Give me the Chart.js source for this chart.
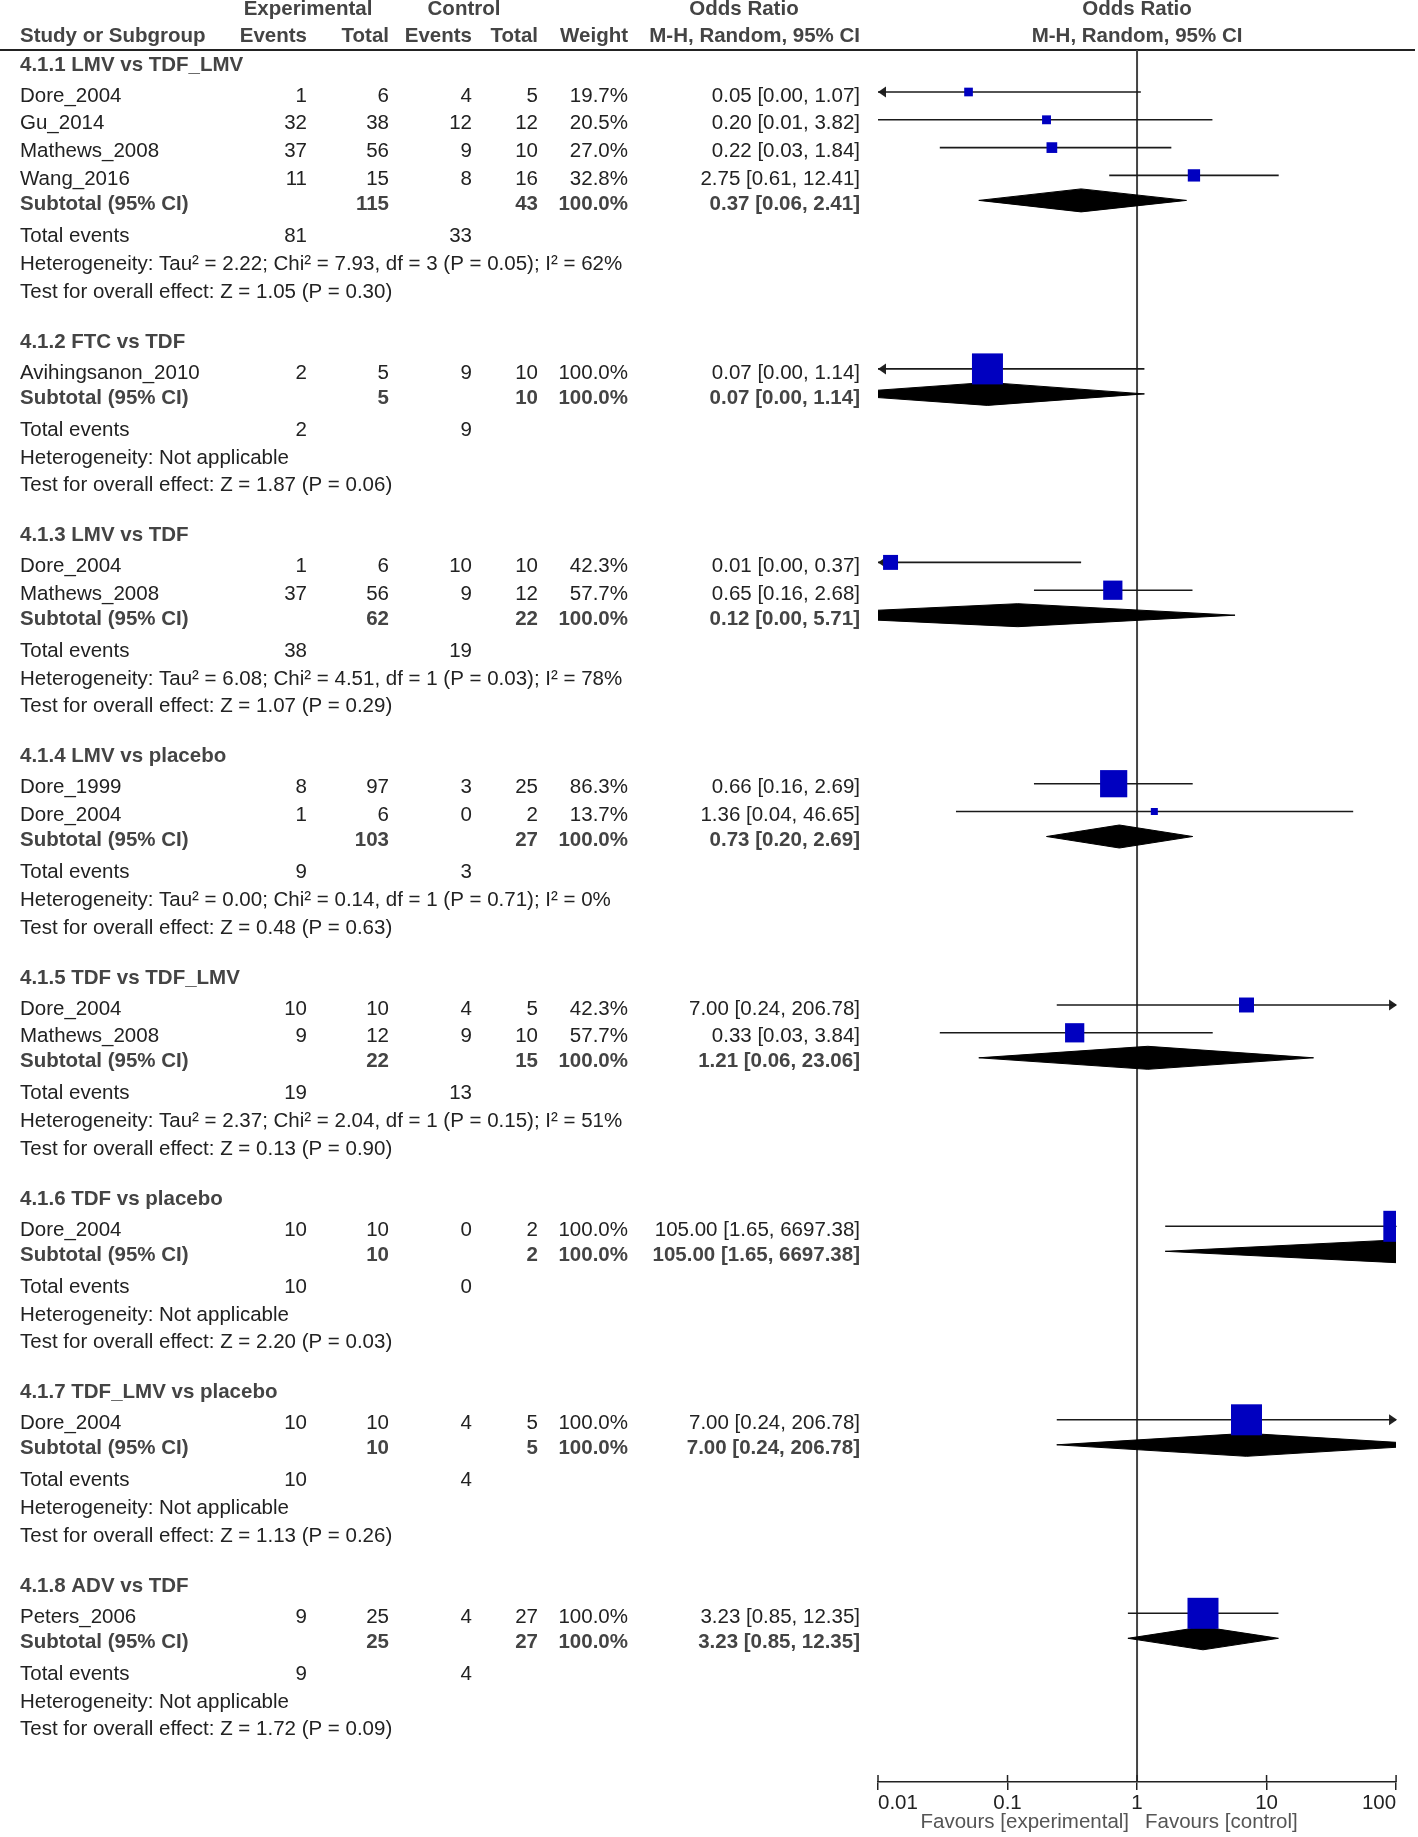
<!DOCTYPE html>
<html>
<head>
<meta charset="utf-8">
<title>Forest plot - odds ratio by subgroup</title>
<script src="https://cdn.jsdelivr.net/npm/chart.js@4.4.0/dist/chart.umd.min.js"></script>
<style>
  html, body { margin: 0; padding: 0; background: #fff; }
  canvas { display: block; }
</style>
</head>
<body>
<canvas id="forest" width="1418" height="1837"></canvas>
<script>
// ---- data ----
const groupTitles = [
    "4.1.1 LMV vs TDF_LMV", "4.1.2 FTC vs TDF", "4.1.3 LMV vs TDF", "4.1.4 LMV vs placebo",
    "4.1.5 TDF vs TDF_LMV", "4.1.6 TDF vs placebo", "4.1.7 TDF_LMV vs placebo", "4.1.8 ADV vs TDF"
];
const studyGroup = [0, 0, 0, 0, 1, 2, 2, 3, 3, 4, 4, 5, 6, 7];
const studyNames = [
    "Dore_2004", "Gu_2014", "Mathews_2008", "Wang_2016", "Avihingsanon_2010",
    "Dore_2004", "Mathews_2008", "Dore_1999", "Dore_2004", "Dore_2004",
    "Mathews_2008", "Dore_2004", "Dore_2004", "Peters_2006"
];
const expEvents  = [1, 32, 37, 11, 2, 1, 37, 8, 1, 10, 9, 10, 10, 9];
const expTotal   = [6, 38, 56, 15, 5, 6, 56, 97, 6, 10, 12, 10, 10, 25];
const ctrlEvents = [4, 12, 9, 8, 9, 10, 9, 3, 0, 4, 9, 0, 4, 4];
const ctrlTotal  = [5, 12, 10, 16, 10, 10, 12, 25, 2, 5, 10, 2, 5, 27];
const weights    = [19.7, 20.5, 27.0, 32.8, 100.0, 42.3, 57.7, 86.3, 13.7, 42.3, 57.7, 100.0, 100.0, 100.0];
const orEst = [0.05, 0.20, 0.22, 2.75, 0.07, 0.0125, 0.65, 0.66, 1.36, 7.00, 0.33, 105.00, 7.00, 3.23];
const orLo  = [0.002, 0.01, 0.03, 0.61, 0.004, 0.0005, 0.16, 0.16, 0.04, 0.24, 0.03, 1.65, 0.24, 0.85];
const orHi  = [1.07, 3.82, 1.84, 12.41, 1.14, 0.37, 2.68, 2.69, 46.65, 206.78, 3.84, 6697.38, 206.78, 12.35];

const subEst = [0.37, 0.07, 0.12, 0.73, 1.21, 105.00, 7.00, 3.23];
const subLo  = [0.06, 0.004, 0.0015, 0.20, 0.06, 1.65, 0.24, 0.85];
const subHi  = [2.41, 1.14, 5.71, 2.69, 23.06, 6697.38, 206.78, 12.35];

const heterogeneity = [
    "Heterogeneity: Tau\u00b2 = 2.22; Chi\u00b2 = 7.93, df = 3 (P = 0.05); I\u00b2 = 62%",
    "Heterogeneity: Not applicable",
    "Heterogeneity: Tau\u00b2 = 6.08; Chi\u00b2 = 4.51, df = 1 (P = 0.03); I\u00b2 = 78%",
    "Heterogeneity: Tau\u00b2 = 0.00; Chi\u00b2 = 0.14, df = 1 (P = 0.71); I\u00b2 = 0%",
    "Heterogeneity: Tau\u00b2 = 2.37; Chi\u00b2 = 2.04, df = 1 (P = 0.15); I\u00b2 = 51%",
    "Heterogeneity: Not applicable",
    "Heterogeneity: Not applicable",
    "Heterogeneity: Not applicable"
];
const overallZ = ["1.05", "1.87", "1.07", "0.48", "0.13", "2.20", "1.13", "1.72"];
const overallP = ["0.30", "0.06", "0.29", "0.63", "0.90", "0.03", "0.26", "0.09"];

const xTicks = [0.01, 0.1, 1, 10, 100];

// ---- layout ----
const FONT = '"Liberation Sans", Arial, sans-serif';
const FS = 20.5;
const COL = { name: 20, expEv: 307, expTot: 389, ctlEv: 472, ctlTot: 538, weight: 628, or: 860 };
const GAP = { first: 15, titleToStudy: 31, study: 27.8, studyToSub: 25, subToEvents: 32, line: 28, hetToTest: 27.5, nextGroup: 50 };
const MARK_SHIFT = 4;      // marks sit slightly above the text centre
const DIAMOND_HALF = 11.5;

// rows, y measured downward from the header rule
const rows = [];
let cy = GAP.first;
groupTitles.forEach((t, g) => {
    rows.push({ kind: "title", g, y: cy });
    cy += GAP.titleToStudy;
    let first = true;
    studyGroup.forEach((sg, i) => {
        if (sg !== g) return;
        if (!first) cy += GAP.study;
        first = false;
        rows.push({ kind: "study", g, i, y: cy });
    });
    cy += GAP.studyToSub;  rows.push({ kind: "subtotal", g, y: cy });
    cy += GAP.subToEvents; rows.push({ kind: "events", g, y: cy });
    cy += GAP.line;        rows.push({ kind: "het", g, y: cy });
    cy += GAP.hetToTest;   rows.push({ kind: "test", g, y: cy });
    cy += GAP.nextGroup;
});
const studyRows = rows.filter(r => r.kind === "study");
const subRows = rows.filter(r => r.kind === "subtotal");

const sumBy = (arr, g) => arr.reduce((s, v, i) => s + (studyGroup[i] === g ? v : 0), 0);
const fmtOR = (e, l, h) => `${e.toFixed(2)} [${l.toFixed(2)}, ${h.toFixed(2)}]`;

// ---- datasets ----
const datasets = [];
datasets.push({
    type: "scatter",
    data: studyRows.map(r => ({ x: orEst[r.i], y: r.y - MARK_SHIFT })),
    pointStyle: "rect",
    pointRadius: studyRows.map(r => (3.2 + 0.278 * weights[r.i]) / Math.SQRT2),
    backgroundColor: "#0000c0",
    borderWidth: 0,
    order: 0,
    clip: 0
});
subRows.forEach(r => {
    const yy = r.y - MARK_SHIFT;
    datasets.push({
        type: "line",
        data: [
            { x: subLo[r.g], y: yy }, { x: subEst[r.g], y: yy - DIAMOND_HALF },
            { x: subHi[r.g], y: yy }, { x: subEst[r.g], y: yy + DIAMOND_HALF },
            { x: subLo[r.g], y: yy }
        ],
        borderColor: "#000",
        borderWidth: 1,
        backgroundColor: "#000",
        fill: "shape",
        pointRadius: 0,
        tension: 0,
        order: 1,
        clip: 0
    });
});
studyRows.forEach(r => {
    const yy = r.y - MARK_SHIFT;
    datasets.push({
        type: "line",
        data: [{ x: orLo[r.i], y: yy }, { x: orHi[r.i], y: yy }],
        borderColor: "#1a1a1a",
        borderWidth: 1.6,
        pointRadius: 0,
        fill: false,
        order: 2,
        clip: 0
    });
});

function arrowHead(ctx, tipX, yy, dir) {
    ctx.beginPath();
    ctx.moveTo(tipX, yy);
    ctx.lineTo(tipX + dir * 8, yy - 5.5);
    ctx.lineTo(tipX + dir * 8, yy + 5.5);
    ctx.closePath();
    ctx.fill();
}

function txt(ctx, s, x, y, align, bold, color) {
    ctx.font = (bold ? "bold " : "") + FS + "px " + FONT;
    ctx.textAlign = align;
    ctx.fillStyle = color || (bold ? "#444" : "#222");
    ctx.fillText(s, x, y);
}

const forestPlugin = {
    id: "forest",
    beforeDatasetsDraw(chart) {
        const { ctx, chartArea: a, scales: { x, y } } = chart;
        ctx.save();
        // header rule
        ctx.strokeStyle = "#222";
        ctx.lineWidth = 2;
        ctx.beginPath(); ctx.moveTo(0, a.top); ctx.lineTo(1415, a.top); ctx.stroke();
        // line of no effect
        const x1 = x.getPixelForValue(1);
        ctx.strokeStyle = "#444";
        ctx.beginPath(); ctx.moveTo(x1, a.top); ctx.lineTo(x1, a.bottom); ctx.stroke();
        // arrows for intervals running off the scale
        ctx.fillStyle = "#222";
        studyRows.forEach(r => {
            const py = y.getPixelForValue(r.y - MARK_SHIFT);
            if (orLo[r.i] < x.min) arrowHead(ctx, a.left, py, 1);
            if (orHi[r.i] > x.max) arrowHead(ctx, a.right + 1, py, -1);
        });
        ctx.restore();
    },
    afterDraw(chart) {
        const { ctx, chartArea: a, scales: { x, y } } = chart;
        ctx.save();
        // upper half of the axis ticks
        ctx.strokeStyle = "#222";
        ctx.lineWidth = 1.5;
        xTicks.forEach(v => {
            const px = x.getPixelForValue(v);
            ctx.beginPath(); ctx.moveTo(px, a.bottom - 7); ctx.lineTo(px, a.bottom); ctx.stroke();
        });

        ctx.textBaseline = "middle";
        const x1 = x.getPixelForValue(1);
        // column headers
        const h1 = a.top - 41, h2 = a.top - 14;
        txt(ctx, "Experimental", 308, h1, "center", true);
        txt(ctx, "Control", 464, h1, "center", true);
        txt(ctx, "Odds Ratio", 744, h1, "center", true);
        txt(ctx, "Odds Ratio", x1, h1, "center", true);
        txt(ctx, "Study or Subgroup", COL.name, h2, "left", true);
        txt(ctx, "Events", COL.expEv, h2, "right", true);
        txt(ctx, "Total", COL.expTot, h2, "right", true);
        txt(ctx, "Events", COL.ctlEv, h2, "right", true);
        txt(ctx, "Total", COL.ctlTot, h2, "right", true);
        txt(ctx, "Weight", COL.weight, h2, "right", true);
        txt(ctx, "M-H, Random, 95% CI", COL.or, h2, "right", true);
        txt(ctx, "M-H, Random, 95% CI", x1, h2, "center", true);

        rows.forEach(r => {
            const py = y.getPixelForValue(r.y);
            const g = r.g;
            if (r.kind === "title") {
                txt(ctx, groupTitles[g], COL.name, py, "left", true);
            } else if (r.kind === "study") {
                const i = r.i;
                txt(ctx, studyNames[i], COL.name, py, "left");
                txt(ctx, String(expEvents[i]), COL.expEv, py, "right");
                txt(ctx, String(expTotal[i]), COL.expTot, py, "right");
                txt(ctx, String(ctrlEvents[i]), COL.ctlEv, py, "right");
                txt(ctx, String(ctrlTotal[i]), COL.ctlTot, py, "right");
                txt(ctx, weights[i].toFixed(1) + "%", COL.weight, py, "right");
                txt(ctx, fmtOR(orEst[i], orLo[i], orHi[i]), COL.or, py, "right");
            } else if (r.kind === "subtotal") {
                txt(ctx, "Subtotal (95% CI)", COL.name, py, "left", true);
                txt(ctx, String(sumBy(expTotal, g)), COL.expTot, py, "right", true);
                txt(ctx, String(sumBy(ctrlTotal, g)), COL.ctlTot, py, "right", true);
                txt(ctx, "100.0%", COL.weight, py, "right", true);
                txt(ctx, fmtOR(subEst[g], subLo[g], subHi[g]), COL.or, py, "right", true);
            } else if (r.kind === "events") {
                txt(ctx, "Total events", COL.name, py, "left");
                txt(ctx, String(sumBy(expEvents, g)), COL.expEv, py, "right");
                txt(ctx, String(sumBy(ctrlEvents, g)), COL.ctlEv, py, "right");
            } else if (r.kind === "het") {
                txt(ctx, heterogeneity[g], COL.name, py, "left");
            } else {
                txt(ctx, `Test for overall effect: Z = ${overallZ[g]} (P = ${overallP[g]})`, COL.name, py, "left");
            }
        });

        // favours labels under the axis
        txt(ctx, "Favours [experimental]", x1 - 8, a.bottom + 40, "right", false, "#555");
        txt(ctx, "Favours [control]", x1 + 8, a.bottom + 40, "left", false, "#555");
        ctx.restore();
    }
};

new Chart(document.getElementById("forest").getContext("2d"), {
    type: "scatter",
    data: { datasets: datasets },
    options: {
        responsive: false,
        animation: false,
        events: [],
        layout: { padding: { left: 878, right: 21, top: 50, bottom: 0 } },
        plugins: { legend: { display: false }, tooltip: { enabled: false } },
        scales: {
            x: {
                type: "logarithmic",
                min: 0.01,
                max: 100,
                afterBuildTicks: s => { s.ticks = xTicks.map(v => ({ value: v })); },
                afterFit: s => { s.height = 55; },
                ticks: {
                    align: "inner",
                    autoSkip: false,
                    maxRotation: 0,
                    minRotation: 0,
                    padding: 1,
                    color: "#222",
                    font: { family: FONT, size: FS },
                    callback: v => String(v)
                },
                grid: { drawOnChartArea: false, drawTicks: true, tickLength: 8, color: "#222", lineWidth: 1.5 },
                border: { display: true, color: "#222", width: 1.5 }
            },
            y: {
                type: "linear",
                display: false,
                reverse: true,
                min: 0,
                max: 1732
            }
        }
    },
    plugins: [forestPlugin]
});
</script>
</body>
</html>
